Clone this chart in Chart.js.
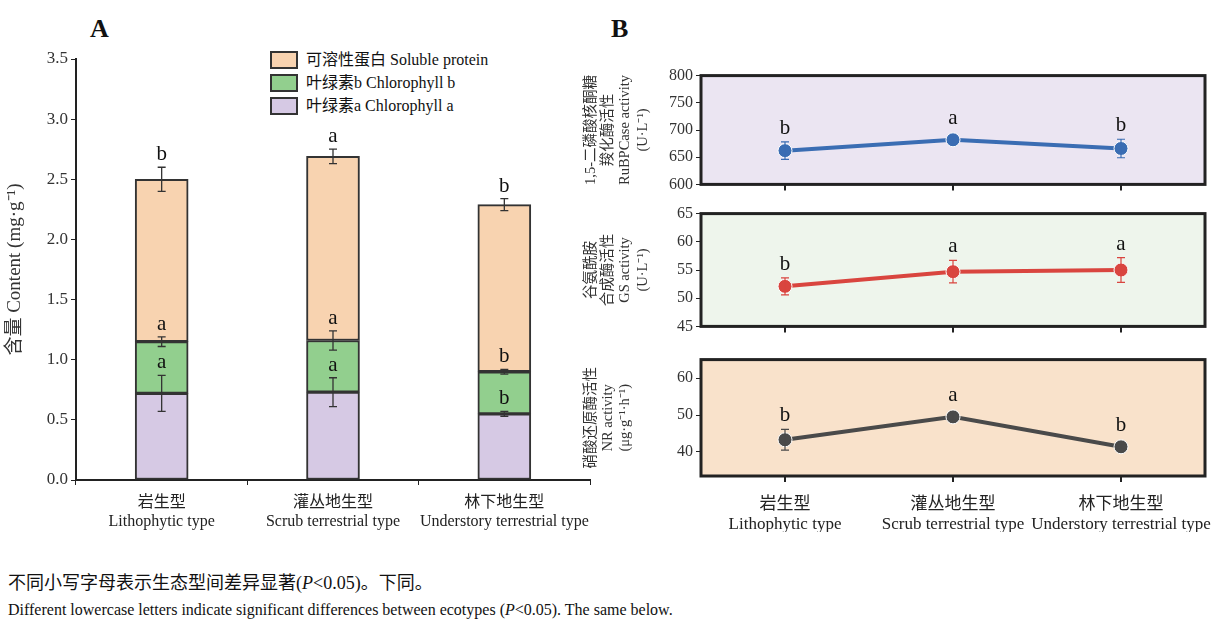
<!DOCTYPE html>
<html><head><meta charset="utf-8">
<script src="https://cdn.jsdelivr.net/npm/chart.js@4"></script>
<style>
body{margin:0;width:1229px;height:632px;background:#fff;position:relative;overflow:hidden;font-family:"Liberation Serif","Noto Sans CJK SC",serif;color:#111}
canvas{position:absolute}
.lbl{position:absolute;font-weight:bold;font-size:26px;font-family:"Liberation Serif",serif}
#legend{position:absolute;left:270px;top:48px;font-size:16px;line-height:23px}
#legend div{display:flex;align-items:center}
#legend span{display:inline-block;width:28px;height:18px;border:2px solid #333;margin-right:8px;box-sizing:border-box}
.cap{position:absolute;left:8px;white-space:nowrap}
</style></head><body>
<div class="lbl" style="left:90px;top:14px">A</div>
<div class="lbl" style="left:611px;top:14px">B</div>
<div id="legend">
<div><span style="background:#f8d3b0"></span>可溶性蛋白 Soluble protein</div>
<div><span style="background:#92cf8e"></span>叶绿素b Chlorophyll b</div>
<div><span style="background:#d6c9e4"></span>叶绿素a Chlorophyll a</div>
</div>
<div style="position:absolute;left:0;top:0;width:620px;height:540px"><canvas id="cA"></canvas></div>
<div style="position:absolute;left:580px;top:63px;width:649px;height:134px"><canvas id="c1"></canvas></div>
<div style="position:absolute;left:580px;top:201px;width:649px;height:138px"><canvas id="c2"></canvas></div>
<div style="position:absolute;left:580px;top:347px;width:649px;height:185px"><canvas id="c3"></canvas></div>
<div class="cap" style="top:568px;font-size:18px">不同小写字母表示生态型间差异显著(<i>P</i>&lt;0.05)。下同。</div>
<div class="cap" style="top:601px;font-size:16px">Different lowercase letters indicate significant differences between ecotypes (<i>P</i>&lt;0.05). The same below.</div>
<script>
const categories=[['岩生型','Lithophytic type'],['灌丛地生型','Scrub terrestrial type'],['林下地生型','Understory terrestrial type']];
const chlA=[0.72,0.73,0.55], chlAErr=[0.15,0.12,0.02], chlALetters=['a','a','b'];
const chlB=[0.43,0.43,0.35], chlBErr=[0.04,0.08,0.02], chlBLetters=['a','a','b'];
const protein=[1.35,1.53,1.39], proteinErr=[0.10,0.06,0.05], proteinLetters=['b','a','b'];
const rubp=[662,682,666], rubpErr=[16,5,17], rubpLetters=['b','a','b'];
const gs=[52.1,54.7,55.0], gsErr=[1.5,2.0,2.2], gsLetters=['b','a','a'];
const nr=[43.3,49.5,41.4], nrErr=[2.8,0.8,0.7], nrLetters=['b','a','b'];
const F='"Liberation Serif","Noto Sans CJK SC",serif';
Chart.defaults.font.family=F; Chart.defaults.color='#222';
Chart.defaults.animation=false; Chart.defaults.responsive=true; Chart.defaults.maintainAspectRatio=false;

const stacks=[chlA,chlB,protein], errs=[chlAErr,chlBErr,proteinErr], lets=[chlALetters,chlBLetters,proteinLetters];
const errA={id:'errA',afterDatasetsDraw(c){const x=c.scales.x,y=c.scales.y,ctx=c.ctx;ctx.save();ctx.strokeStyle='#333';ctx.lineWidth=1.3;ctx.fillStyle='#111';ctx.font='21px '+F;ctx.textAlign='center';ctx.textBaseline='bottom';
 for(let i=0;i<3;i++){let cum=0;for(let s=0;s<3;s++){cum+=stacks[s][i];const px=x.getPixelForValue(i),t=y.getPixelForValue(cum+errs[s][i]),b=y.getPixelForValue(cum-errs[s][i]);
 ctx.beginPath();ctx.moveTo(px,t);ctx.lineTo(px,b);ctx.moveTo(px-4,t);ctx.lineTo(px+4,t);ctx.moveTo(px-4,b);ctx.lineTo(px+4,b);ctx.stroke();ctx.fillText(lets[s][i],px,t-2);}}ctx.restore();}};
new Chart(document.getElementById('cA'),{type:'bar',
 data:{labels:categories,datasets:[
  {label:'叶绿素a Chlorophyll a',data:chlA,backgroundColor:'#d6c9e4'},
  {label:'叶绿素b Chlorophyll b',data:chlB,backgroundColor:'#92cf8e'},
  {label:'可溶性蛋白 Soluble protein',data:protein,backgroundColor:'#f8d3b0'}].map(d=>Object.assign(d,{borderColor:'#333',borderWidth:2,barThickness:53,borderSkipped:false}))},
 options:{layout:{padding:{top:59,right:30,left:0,bottom:0}},plugins:{legend:{display:false},tooltip:{enabled:false}},
 scales:{x:{stacked:true,grid:{drawOnChartArea:false,tickLength:5,color:'#222',offset:true},border:{color:'#222',width:2},ticks:{font:{size:16},color:'#222',padding:8,maxRotation:0,minRotation:0,autoSkip:false},afterFit(s){s.height=60}},
  y:{stacked:true,min:0,max:3.5,grid:{drawOnChartArea:false,tickLength:5,color:'#222'},border:{color:'#222',width:2},ticks:{stepSize:0.5,font:{size:17},color:'#333',callback:v=>v.toFixed(1)},
   title:{display:true,text:'含量 Content (mg·g⁻¹)',font:{size:19},color:'#333'},afterFit(s){s.width=76}}}},
 plugins:[errA]});

function panel(id,vals,errv,letters,color,bg,min,max,step,title,showX){
 const deco={id:'deco',beforeDraw(c){const a=c.chartArea,ctx=c.ctx;ctx.save();ctx.fillStyle=bg;ctx.fillRect(a.left,a.top,a.width,a.height);ctx.restore();},
  afterDatasetsDraw(c){const a=c.chartArea,ctx=c.ctx,x=c.scales.x,y=c.scales.y;ctx.save();ctx.strokeStyle='#222';ctx.lineWidth=3;ctx.strokeRect(a.left,a.top,a.width,a.height);
  ctx.font='21px '+F;ctx.textAlign='center';ctx.textBaseline='bottom';ctx.fillStyle='#111';
  for(let i=0;i<3;i++){const px=x.getPixelForValue(i),t=y.getPixelForValue(vals[i]+errv[i]),b=y.getPixelForValue(vals[i]-errv[i]);
   ctx.strokeStyle=color;ctx.lineWidth=1.2;ctx.beginPath();ctx.moveTo(px,t);ctx.lineTo(px,b);ctx.moveTo(px-4,t);ctx.lineTo(px+4,t);ctx.moveTo(px-4,b);ctx.lineTo(px+4,b);ctx.stroke();
   ctx.fillText(letters[i],px,Math.min(t,y.getPixelForValue(vals[i])-8)-3);}
  ctx.restore();}};
 new Chart(document.getElementById(id),{type:'line',
  data:{labels:categories,datasets:[{data:vals,borderColor:color,backgroundColor:color,borderWidth:4,pointRadius:7,pointBorderColor:'#fff',pointBorderWidth:1,tension:0}]},
  options:{layout:{padding:{top:10,right:24,left:0,bottom:0}},plugins:{legend:{display:false},tooltip:{enabled:false}},
  scales:{x:{offset:true,grid:{drawOnChartArea:false,tickLength:6,color:'#222',lineWidth:2,offset:false},border:{color:'#222',width:2},
    ticks:{display:showX,font:{size:17},color:'#222',padding:12,maxRotation:0,minRotation:0,autoSkip:false},afterFit(s){s.height=showX?56:8}},
   y:{min:min,max:max,grid:{drawOnChartArea:false,tickLength:5,color:'#222'},border:{color:'#222',width:2},
    afterBuildTicks(s){s.ticks=s.ticks.filter(t=>t.value%step===0)},
    ticks:{stepSize:step,font:{size:16},color:'#333'},title:{display:true,text:title,font:{size:14.5},color:'#333',padding:2},afterFit(s){s.width=121}}}},
  plugins:[deco]});
}
panel('c1',rubp,rubpErr,rubpLetters,'#3a6db3','#ebe5f2',600,800,50,['1,5-二磷酸核酮糖','羧化酶活性','RuBPCase activity','(U·L⁻¹)'],false);
panel('c2',gs,gsErr,gsLetters,'#d9453f','#eef5ec',45,65,5,['谷氨酰胺','合成酶活性','GS activity','(U·L⁻¹)'],false);
panel('c3',nr,nrErr,nrLetters,'#4a4a4a','#f9e2cb',33.5,65,10,['硝酸还原酶活性','NR activity','(μg·g⁻¹·h⁻¹)'],true);
</script></body></html>
